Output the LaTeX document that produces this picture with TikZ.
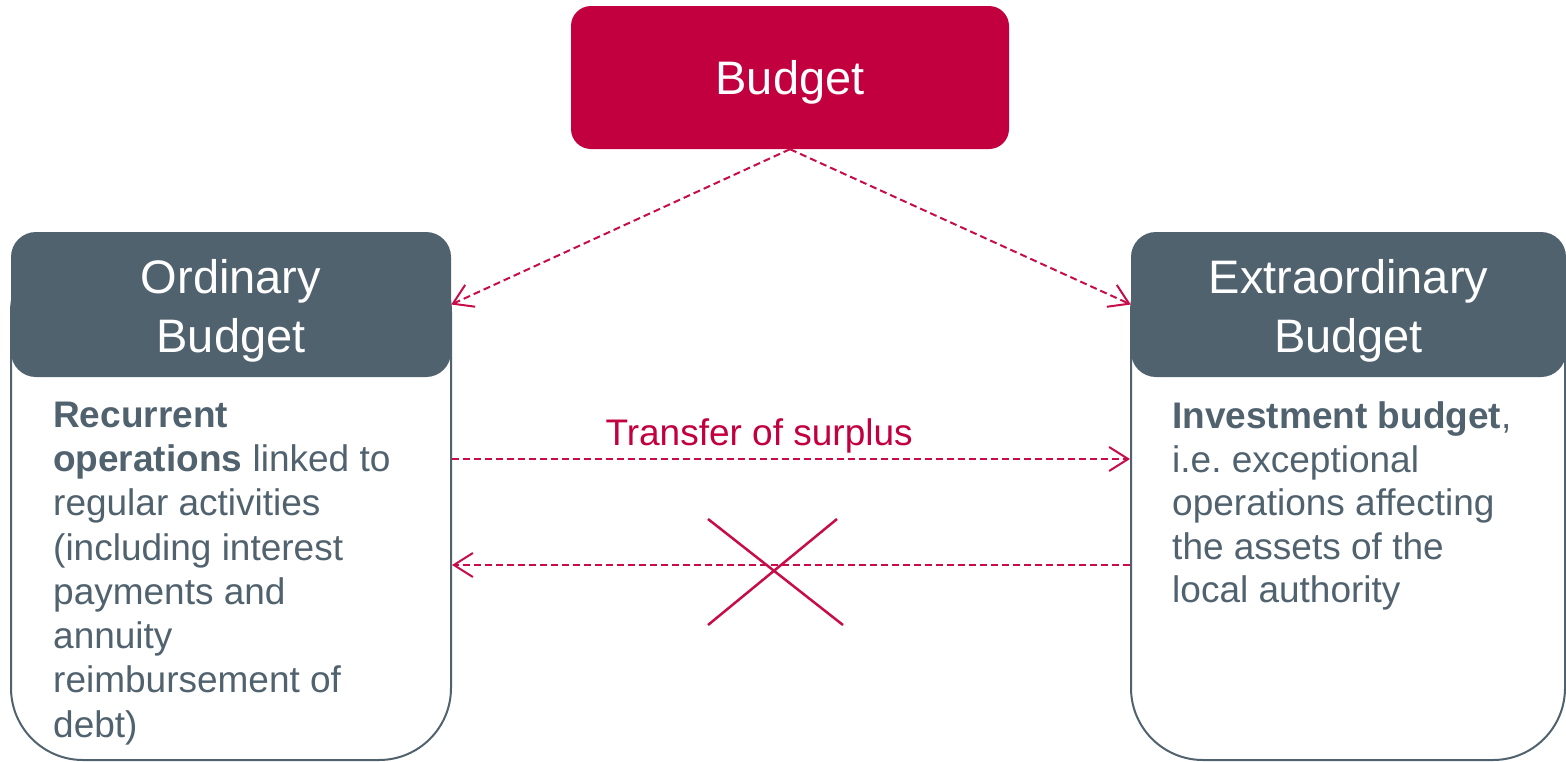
\documentclass[tikz,border=0pt]{standalone}
\usepackage{fontspec}
\setmainfont{Liberation Sans}
\usetikzlibrary{arrows.meta}
\frenchspacing

\definecolor{brandred}{HTML}{C3003F}
\definecolor{linkred}{HTML}{C80C4A}
\definecolor{slate}{HTML}{51626F}

\tikzset{
  headbox/.style={fill=slate, draw=none, rounded corners=25pt,
    minimum width=#1, minimum height=145pt, inner sep=0pt},
  bodybox/.style={draw=slate, line width=2pt, fill=white, rounded corners=72pt,
    minimum width=#1, minimum height=520pt, inner sep=0pt},
  headtext/.style={text=white, align=center, inner sep=0pt,
    font=\fontsize{47}{59}\selectfont},
  bodytext/.style={text=slate, align=left, inner sep=0pt, anchor=north west,
    font=\fontsize{37}{44.3}\selectfont},
  flow/.style={draw=linkred, line width=2pt, dash pattern=on 7pt off 4pt,
    -{Straight Barb[length=19pt,width=24pt,line width=2pt]}},
}

\begin{document}
\begin{tikzpicture}[x=1pt,y=-1pt]
\useasboundingbox (0,0) rectangle (1566,761);

% top-level box
\node[fill=brandred, rounded corners=20pt, minimum width=438pt,
      minimum height=143pt, inner sep=0pt] (budget) at (790,77.5) {};
\node[headtext, anchor=base] (budgettxt) at (790,94) {Budget};

% ordinary budget column
\node[bodybox=440pt] (obody) at (231,500) {};
\node[headbox=440pt] (ohead) at (231,304.5) {};
\node[headtext, yshift=-6pt] (otitle) at (ohead.center) {Ordinary\\Budget};
\node[bodytext] (otext) at (53,401.5) {\textbf{Recurrent}\\
  \textbf{operations} linked to\\
  regular activities\\
  (including interest\\
  payments and\\
  annuity\\
  reimbursement of\\
  debt)};

% extraordinary budget column
\node[bodybox=434pt] (ebody) at (1348,500) {};
\node[headbox=435pt] (ehead) at (1348.5,304.5) {};
\node[headtext, yshift=-6pt] (etitle) at (ehead.center) {Extraordinary\\Budget};
\node[bodytext, font=\fontsize{37}{43.6}\selectfont] (etext) at (1172,401.5)
  {\textbf{Investment budget},\\
  i.e. exceptional\\
  operations affecting\\
  the assets of the\\
  local authority};

% connectors
\draw[flow] (budget.south) -- (ohead.east);
\draw[flow] (budget.south) -- (ehead.west);
\draw[flow] (obody.east |- 0,459) -- node[pos=0.453, anchor=base, yshift=14pt,
    inner sep=0pt, text=brandred, font=\fontsize{37}{44}\selectfont] (transfer)
    {Transfer of surplus} (ebody.west |- 0,459);
\draw[flow] (ebody.west |- 0,565) -- (obody.east |- 0,565);

% crossed-out return flow
\draw[linkred, line width=2.5pt] (708,519) -- (843,625);
\draw[linkred, line width=2.5pt] (708,625) -- (837,519);
\end{tikzpicture}
\end{document}
